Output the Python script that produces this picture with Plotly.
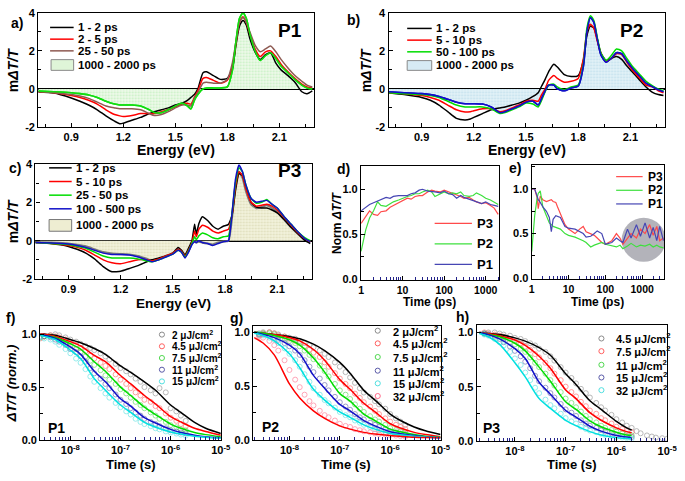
import plotly.graph_objects as go

W, H = 685, 481
FONT = "Liberation Sans"


def px(x):
    return x / W


def py(y):
    return 1 - y / H


# ---------------- data: panel a (P1 spectra) ----------------
E_ab = [0.71, 0.8, 0.9, 0.95, 1.0, 1.05, 1.1, 1.15, 1.18, 1.2, 1.25, 1.3, 1.35, 1.38, 1.42,
        1.46, 1.5, 1.54, 1.57, 1.59, 1.61, 1.63, 1.66, 1.68, 1.72, 1.76, 1.8, 1.83, 1.85, 1.87,
        1.89, 1.91, 1.93, 1.96, 1.99, 2.02, 2.05, 2.08, 2.11, 2.15, 2.19, 2.23, 2.26, 2.29]
a_1_2 = [-0.17, -0.22, -0.48, -0.65, -0.85, -1.1, -1.42, -1.7, -1.83, -1.8, -1.65, -1.5, -1.3, -1.2, -1.1,
         -1.0, -0.85, -0.75, -0.6, -0.45, -0.3, 0.0, 0.85, 0.9, 0.7, 0.5, 0.55, 1.1, 2.3, 3.3,
         3.6, 3.35, 2.65, 1.95, 1.55, 1.8, 1.9, 1.35, 1.0, 0.7, 0.35, -0.15, -0.25, -0.1]
a_2_5 = [-0.15, -0.2, -0.35, -0.45, -0.6, -0.8, -1.1, -1.35, -1.42, -1.45, -1.4, -1.3, -1.3, -1.3, -1.2,
         -1.1, -0.95, -0.8, -0.75, -0.8, -0.45, -0.1, 0.55, 0.6, 0.45, 0.3, 0.45, 1.2, 2.4, 3.5,
         3.8, 3.5, 2.9, 2.1, 1.7, 1.95, 2.0, 1.7, 1.3, 0.9, 0.55, 0.25, 0.1, 0.05]
a_25_50 = [-0.15, -0.2, -0.3, -0.38, -0.5, -0.7, -0.9, -1.0, -1.05, -1.05, -1.05, -1.1, -1.3, -1.4, -1.35,
           -1.2, -1.0, -0.85, -0.85, -0.9, -0.5, -0.2, 0.3, 0.35, 0.3, 0.3, 0.5, 1.4, 2.5, 3.5,
           3.75, 3.5, 3.0, 2.3, 1.95, 2.1, 2.25, 1.95, 1.55, 1.1, 0.7, 0.4, 0.2, 0.1]
a_1000_2000 = [-0.12, -0.15, -0.2, -0.25, -0.32, -0.45, -0.65, -0.8, -0.85, -0.85, -0.85, -0.9, -1.1, -1.25, -1.25,
               -1.1, -0.9, -0.75, -0.9, -1.05, -0.6, -0.3, 0.0, 0.05, 0.05, 0.05, 0.1, 1.0, 2.5, 3.7,
               4.0, 3.7, 2.9, 2.0, 1.5, 1.75, 1.9, 1.6, 1.2, 0.85, 0.5, 0.2, 0.05, 0.0]

# ---------------- data: panel b (P2 spectra) ----------------
b_1_2 = [-0.2, -0.3, -0.45, -0.6, -0.85, -1.2, -1.55, -1.63, -1.58, -1.5, -1.3, -1.1, -1.0, -0.95, -0.85,
         -0.75, -0.6, -0.4, -0.2, 0.15, 0.5, 0.9, 1.3, 1.15, 0.75, 0.65, 0.7, 1.5, 2.8, 3.3,
         3.2, 2.6, 1.9, 1.5, 1.6, 1.7, 1.55, 1.2, 0.9, 0.5, 0.1, -0.2, -0.3, -0.35]
b_5_10 = [-0.2, -0.25, -0.35, -0.45, -0.6, -0.85, -1.1, -1.22, -1.2, -1.15, -1.05, -1.05, -1.2, -1.15, -1.0,
          -0.85, -0.65, -0.6, -0.65, -0.3, 0.0, 0.45, 0.7, 0.55, 0.35, 0.4, 0.55, 1.6, 3.0, 3.4,
          3.2, 2.5, 1.9, 1.45, 1.6, 1.85, 1.8, 1.4, 1.0, 0.6, 0.2, 0.1, -0.1, -0.2]
b_50_100 = [-0.2, -0.25, -0.3, -0.35, -0.45, -0.65, -0.85, -0.95, -0.95, -0.95, -0.95, -1.05, -1.3, -1.25, -1.1,
            -0.95, -0.75, -0.8, -0.95, -0.6, -0.15, 0.2, 0.25, 0.1, -0.05, 0.1, 0.2, 1.3, 3.2, 3.85,
            3.6, 2.7, 1.9, 1.5, 1.75, 2.1, 2.0, 1.6, 1.2, 0.8, 0.4, 0.15, 0.0, -0.1]
b_1000_2000 = [-0.15, -0.2, -0.25, -0.3, -0.4, -0.55, -0.7, -0.78, -0.78, -0.78, -0.8, -0.95, -1.25, -1.2, -1.05,
               -0.9, -0.7, -0.65, -0.85, -0.5, -0.1, 0.2, 0.2, 0.0, -0.1, 0.05, 0.15, 1.2, 3.0, 3.75,
               3.5, 2.6, 1.8, 1.4, 1.6, 1.9, 1.85, 1.45, 1.1, 0.7, 0.3, 0.1, -0.05, -0.15]

# ---------------- data: panel c (P3 spectra) ----------------
E_c = [0.71, 0.8, 0.9, 0.95, 1.0, 1.05, 1.1, 1.15, 1.2, 1.25, 1.3, 1.35, 1.38, 1.42, 1.46,
       1.5, 1.53, 1.55, 1.57, 1.59, 1.61, 1.625, 1.635, 1.65, 1.67, 1.7, 1.73, 1.76, 1.79, 1.82,
       1.84, 1.86, 1.88, 1.9, 1.92, 1.95, 1.98, 2.01, 2.04, 2.07, 2.1, 2.14, 2.18, 2.22, 2.26, 2.29]
c_1_2 = [-0.1, -0.15, -0.3, -0.45, -0.65, -0.95, -1.35, -1.62, -1.6, -1.45, -1.3, -1.1, -1.0, -0.9, -0.8,
         -0.65, -0.35, -0.5, -0.75, -0.4, 0.0, 0.85, 0.35, 0.9, 1.25, 1.05, 0.75, 0.6, 0.75, 0.85,
         1.3, 2.6, 3.5, 3.4, 2.8, 2.0, 1.75, 1.7, 1.7, 1.6, 1.45, 1.1, 0.7, 0.35, 0.0, -0.15]
c_5_10 = [-0.1, -0.15, -0.25, -0.35, -0.5, -0.75, -1.0, -1.15, -1.2, -1.1, -1.0, -1.0, -1.05, -0.95, -0.8,
          -0.65, -0.45, -0.55, -0.8, -0.5, -0.1, 0.5, 0.2, 0.6, 0.8, 0.7, 0.5, 0.4, 0.5, 0.6,
          1.3, 2.8, 3.6, 3.4, 2.7, 2.0, 1.8, 1.85, 1.9, 1.8, 1.6, 1.2, 0.8, 0.4, 0.1, -0.05]
c_25_50 = [-0.1, -0.15, -0.2, -0.3, -0.4, -0.6, -0.8, -0.9, -0.9, -0.9, -0.95, -1.05, -1.1, -1.0, -0.85,
           -0.7, -0.5, -0.6, -0.85, -0.55, -0.15, 0.2, 0.05, 0.25, 0.4, 0.3, 0.15, 0.1, 0.2, 0.25,
           1.4, 3.0, 3.8, 3.6, 2.9, 2.2, 1.95, 2.0, 2.15, 1.9, 1.7, 1.25, 0.85, 0.45, 0.15, 0.0]
c_100_500 = [-0.1, -0.12, -0.18, -0.25, -0.35, -0.5, -0.65, -0.72, -0.72, -0.75, -0.85, -1.0, -1.1, -1.0, -0.85,
             -0.7, -0.5, -0.6, -0.9, -0.6, -0.2, -0.05, -0.1, 0.0, -0.1, -0.15, -0.25, -0.15, -0.05, 0.0,
             1.4, 3.2, 3.95, 3.6, 2.9, 2.2, 2.0, 2.05, 2.1, 1.9, 1.7, 1.25, 0.85, 0.45, 0.1, -0.05]
c_1000_2000 = [-0.08, -0.1, -0.15, -0.22, -0.3, -0.45, -0.6, -0.68, -0.7, -0.72, -0.8, -0.95, -1.05, -0.95, -0.8,
               -0.65, -0.45, -0.55, -0.85, -0.55, -0.15, -0.05, -0.1, -0.05, -0.1, -0.15, -0.2, -0.1, -0.05, 0.0,
               1.2, 2.9, 3.6, 3.3, 2.6, 1.9, 1.7, 1.75, 1.85, 1.7, 1.5, 1.1, 0.7, 0.35, 0.05, -0.05]

# ---------------- data: panel d (normalised kinetics, rise) ----------------
t_d = [1, 1.3, 1.6, 2, 2.5, 3, 4, 5, 6, 8, 10, 13, 16, 20, 25, 30, 40, 50, 60, 80, 100,
       130, 160, 200, 250, 300, 400, 500, 600, 800, 1000, 1300, 1600, 2000]
d_P3 = [0.62, 0.70, 0.76, 0.72, 0.71, 0.75, 0.76, 0.80, 0.82, 0.85, 0.88, 0.90, 0.89, 0.92, 0.93, 0.93, 0.97,
        0.99, 0.98, 0.97, 0.99, 0.97, 0.95, 0.94, 0.92, 0.90, 0.91, 0.88, 0.86, 0.84, 0.85, 0.82, 0.79, 0.72]
d_P2 = [0.31, 0.55, 0.68, 0.76, 0.86, 0.82, 0.81, 0.84, 0.86, 0.88, 0.90, 0.92, 0.93, 0.95, 0.95, 0.97, 0.99,
        0.97, 0.92, 0.95, 0.97, 0.95, 0.96, 0.95, 0.97, 0.93, 0.92, 0.93, 0.96, 0.93, 0.90, 0.88, 0.86, 0.83]
d_P1 = [0.76, 0.80, 0.83, 0.85, 0.87, 0.88, 0.91, 0.90, 0.92, 0.93, 0.93, 0.93, 0.95, 0.96, 0.99, 1.00, 0.98,
        0.97, 0.97, 0.96, 0.98, 0.95, 0.94, 0.90, 0.93, 0.91, 0.89, 0.88, 0.86, 0.84, 0.86, 0.83, 0.82, 0.81]

# ---------------- data: panel e (normalised kinetics, decay) ----------------
t_e = [1, 1.2, 1.4, 1.5, 1.7, 2, 2.5, 3, 3.4, 3.8, 4.5, 5, 6, 8, 10, 15, 20, 25, 30, 40, 50, 60, 80,
       100, 150, 200, 250, 300, 400, 500, 700, 900, 1200, 1600, 2000, 2500, 3000, 3800]
e_P3 = [1.0, 1.0, 0.9, 0.78, 0.92, 0.88, 0.86, 0.87, 0.88, 0.86, 0.85, 0.80, 0.72, 0.60, 0.55, 0.50, 0.55, 0.58,
        0.52, 0.50, 0.48, 0.45, 0.40, 0.38, 0.42, 0.50, 0.45, 0.38, 0.45, 0.50, 0.45, 0.55, 0.50, 0.60, 0.48,
        0.58, 0.42, 0.45]
e_P2 = [0.30, 0.70, 0.90, 0.95, 0.98, 0.80, 0.70, 0.62, 0.60, 0.58, 0.57, 0.56, 0.55, 0.50, 0.48, 0.46, 0.44,
        0.42, 0.40, 0.35, 0.37, 0.38, 0.40, 0.38, 0.36, 0.35, 0.37, 0.33, 0.36, 0.39, 0.35, 0.37, 0.36, 0.38,
        0.35, 0.37, 0.35, 0.34]
e_P1 = [1.0, 1.0, 0.92, 0.88, 0.85, 0.80, 0.75, 0.68, 0.52, 0.66, 0.70, 0.69, 0.68, 0.58, 0.56, 0.55, 0.52,
        0.50, 0.46, 0.47, 0.50, 0.53, 0.50, 0.38, 0.40, 0.45, 0.42, 0.40, 0.55, 0.45, 0.60, 0.47, 0.62, 0.45,
        0.57, 0.42, 0.58, 0.42]
e_highlight_t = [1100]
e_highlight_v = [0.43]

# ---------------- data: panels f, g, h (long-time decays) ----------------
t_fit = [2e-9, 3e-9, 5e-9, 1e-8, 1.6e-8, 3e-8, 5e-8, 1e-7, 1.6e-7, 3e-7, 5e-7, 1e-6, 1.6e-6, 3e-6, 5e-6, 1e-5]
t_fit_h = [2e-9, 3e-9, 5e-9, 1e-8, 1.6e-8, 3e-8, 5e-8, 1e-7, 1.6e-7, 3e-7, 5e-7, 1e-6, 1.6e-6, 2e-6]
t_dat = [2.5e-9, 3e-9, 4e-9, 5e-9, 6e-9, 8e-9, 1e-8, 1.3e-8, 1.6e-8, 2e-8, 2.5e-8, 3e-8, 4e-8, 5e-8, 6e-8,
         8e-8, 1e-7, 1.3e-7, 1.6e-7, 2e-7, 2.5e-7, 3e-7, 4e-7, 5e-7, 6e-7, 8e-7, 1e-6, 1.3e-6, 1.6e-6, 2e-6]
t_dat_long = t_dat + [2.5e-6, 3e-6, 4e-6, 5e-6, 6e-6, 8e-6, 1e-5]

f_labels = ["2 μJ/cm<sup>2</sup>", "4.5 μJ/cm<sup>2</sup>", "7.5 μJ/cm<sup>2</sup>",
            "11 μJ/cm<sup>2</sup>", "15 μJ/cm<sup>2</sup>"]
f_fit = [
    [1.0, 1.0, 0.99, 0.95, 0.92, 0.865, 0.81, 0.70, 0.64, 0.55, 0.47, 0.33, 0.26, 0.165, 0.11, 0.06],
    [1.0, 1.0, 0.98, 0.93, 0.89, 0.80, 0.74, 0.61, 0.53, 0.42, 0.34, 0.22, 0.17, 0.11, 0.08, 0.045],
    [1.0, 0.99, 0.97, 0.91, 0.86, 0.74, 0.65, 0.50, 0.42, 0.31, 0.24, 0.15, 0.11, 0.07, 0.05, 0.03],
    [1.0, 0.99, 0.96, 0.88, 0.81, 0.65, 0.55, 0.39, 0.32, 0.21, 0.16, 0.10, 0.07, 0.045, 0.03, 0.02],
    [1.0, 0.98, 0.95, 0.85, 0.77, 0.58, 0.47, 0.33, 0.26, 0.165, 0.12, 0.075, 0.055, 0.035, 0.025, 0.015],
]
f_dat = [
    [0.97, 0.98, 0.99, 1.0, 0.99, 0.97, 0.95, 0.93, 0.91, 0.89, 0.87, 0.85, 0.82, 0.79, 0.76, 0.72, 0.68,
     0.65, 0.62, 0.58, 0.55, 0.50, 0.47, 0.44, 0.49, 0.45, 0.30, 0.27, 0.23, 0.18],
    [0.96, 0.98, 0.99, 0.98, 0.97, 0.95, 0.92, 0.90, 0.87, 0.84, 0.80, 0.77, 0.73, 0.70, 0.67, 0.62, 0.57,
     0.53, 0.49, 0.45, 0.42, 0.38, 0.36, 0.32, 0.30, 0.25, 0.21, 0.18, 0.15, 0.13],
    [0.97, 0.98, 0.98, 0.97, 0.95, 0.92, 0.89, 0.86, 0.83, 0.79, 0.75, 0.71, 0.66, 0.61, 0.57, 0.53, 0.48,
     0.44, 0.40, 0.36, 0.33, 0.30, 0.26, 0.23, 0.20, 0.17, 0.14, 0.12, 0.10, 0.09],
    [0.98, 0.98, 0.97, 0.95, 0.93, 0.90, 0.86, 0.83, 0.79, 0.74, 0.68, 0.63, 0.58, 0.53, 0.49, 0.43, 0.38,
     0.34, 0.30, 0.26, 0.23, 0.20, 0.17, 0.15, 0.13, 0.11, 0.09, 0.08, 0.07, 0.06],
    [0.97, 0.96, 0.95, 0.93, 0.90, 0.86, 0.82, 0.77, 0.73, 0.67, 0.60, 0.55, 0.49, 0.44, 0.40, 0.35, 0.31,
     0.27, 0.24, 0.20, 0.17, 0.15, 0.13, 0.11, 0.10, 0.08, 0.07, 0.06, 0.05, 0.04],
]

g_labels = ["2 μJ/cm<sup>2</sup>", "4.5 μJ/cm<sup>2</sup>", "7.5 μJ/cm<sup>2</sup>",
            "11 μJ/cm<sup>2</sup>", "15 μJ/cm<sup>2</sup>", "32 μJ/cm<sup>2</sup>"]
g_fit = [
    [1.0, 0.99, 0.98, 0.96, 0.94, 0.89, 0.83, 0.72, 0.62, 0.46, 0.37, 0.24, 0.18, 0.12, 0.085, 0.05],
    [1.0, 0.99, 0.98, 0.95, 0.92, 0.84, 0.74, 0.56, 0.47, 0.34, 0.26, 0.15, 0.11, 0.07, 0.05, 0.03],
    [1.0, 0.99, 0.97, 0.93, 0.88, 0.76, 0.63, 0.43, 0.36, 0.24, 0.18, 0.10, 0.075, 0.05, 0.035, 0.025],
    [1.0, 0.98, 0.95, 0.88, 0.80, 0.60, 0.48, 0.33, 0.27, 0.18, 0.13, 0.075, 0.058, 0.04, 0.03, 0.02],
    [0.99, 0.97, 0.92, 0.80, 0.67, 0.47, 0.37, 0.26, 0.21, 0.14, 0.10, 0.06, 0.048, 0.034, 0.027, 0.02],
    [0.95, 0.90, 0.79, 0.52, 0.39, 0.27, 0.20, 0.13, 0.10, 0.07, 0.055, 0.04, 0.033, 0.025, 0.022, 0.02],
]
g_dat = [
    [0.99, 1.0, 1.0, 0.99, 0.98, 0.96, 0.95, 0.94, 0.92, 0.90, 0.88, 0.86, 0.83, 0.80, 0.77, 0.72, 0.68,
     0.63, 0.58, 0.53, 0.48, 0.44, 0.40, 0.36, 0.33, 0.29, 0.24, 0.20, 0.17, 0.14],
    [0.97, 0.99, 1.0, 0.99, 0.97, 0.96, 0.94, 0.92, 0.90, 0.87, 0.84, 0.81, 0.77, 0.72, 0.68, 0.62, 0.57,
     0.52, 0.48, 0.43, 0.39, 0.35, 0.31, 0.27, 0.24, 0.20, 0.17, 0.14, 0.12, 0.10],
    [0.98, 0.99, 0.99, 0.98, 0.96, 0.94, 0.92, 0.90, 0.87, 0.83, 0.79, 0.75, 0.69, 0.64, 0.59, 0.52, 0.46,
     0.42, 0.38, 0.33, 0.29, 0.26, 0.22, 0.19, 0.17, 0.14, 0.11, 0.09, 0.08, 0.07],
    [0.98, 0.98, 0.97, 0.95, 0.93, 0.90, 0.87, 0.83, 0.79, 0.74, 0.68, 0.63, 0.57, 0.51, 0.46, 0.40, 0.35,
     0.31, 0.28, 0.24, 0.21, 0.19, 0.16, 0.14, 0.12, 0.10, 0.08, 0.07, 0.06, 0.05],
    [0.98, 0.97, 0.95, 0.93, 0.90, 0.85, 0.80, 0.74, 0.68, 0.61, 0.54, 0.48, 0.42, 0.37, 0.34, 0.30, 0.26,
     0.23, 0.21, 0.18, 0.16, 0.14, 0.12, 0.10, 0.09, 0.075, 0.06, 0.055, 0.048, 0.042],
    [0.96, 0.95, 0.92, 0.88, 0.83, 0.74, 0.65, 0.56, 0.49, 0.42, 0.36, 0.32, 0.27, 0.23, 0.21, 0.18, 0.15,
     0.13, 0.12, 0.10, 0.09, 0.08, 0.07, 0.06, 0.055, 0.05, 0.045, 0.04, 0.035, 0.03],
]

h_labels = ["4.5 μJ/cm<sup>2</sup>", "7.5 μJ/cm<sup>2</sup>", "11 μJ/cm<sup>2</sup>",
            "15 μJ/cm<sup>2</sup>", "32 μJ/cm<sup>2</sup>"]
h_fit = [
    [1.0, 0.99, 0.98, 0.95, 0.92, 0.86, 0.79, 0.62, 0.52, 0.37, 0.29, 0.18, 0.12, 0.10],
    [1.0, 0.99, 0.97, 0.93, 0.88, 0.78, 0.67, 0.47, 0.39, 0.26, 0.19, 0.12, 0.085, 0.075],
    [1.0, 0.98, 0.96, 0.90, 0.83, 0.68, 0.55, 0.36, 0.29, 0.185, 0.13, 0.08, 0.055, 0.05],
    [1.0, 0.98, 0.94, 0.85, 0.76, 0.54, 0.43, 0.28, 0.22, 0.135, 0.09, 0.05, 0.035, 0.03],
    [0.99, 0.96, 0.89, 0.72, 0.59, 0.39, 0.30, 0.19, 0.14, 0.085, 0.055, 0.03, 0.022, 0.02],
]
h_dat = [
    [0.99, 1.0, 1.0, 0.99, 0.98, 0.97, 0.95, 0.94, 0.92, 0.90, 0.88, 0.85, 0.82, 0.78, 0.74, 0.68, 0.63,
     0.58, 0.53, 0.48, 0.44, 0.40, 0.35, 0.31, 0.28, 0.24, 0.20, 0.17, 0.14, 0.12,
     0.09, 0.07, 0.05, 0.04, 0.03, 0.025, 0.02],
    [1.0, 0.99, 0.98, 0.97, 0.96, 0.94, 0.92, 0.90, 0.87, 0.84, 0.80, 0.77, 0.72, 0.67, 0.62, 0.56, 0.50,
     0.45, 0.41, 0.36, 0.32, 0.28, 0.25, 0.21, 0.19, 0.16, 0.13, 0.11, 0.09, 0.08],
    [0.99, 0.98, 0.97, 0.96, 0.94, 0.91, 0.89, 0.85, 0.82, 0.77, 0.72, 0.68, 0.62, 0.56, 0.51, 0.45, 0.39,
     0.35, 0.31, 0.27, 0.23, 0.20, 0.17, 0.14, 0.12, 0.10, 0.085, 0.07, 0.06, 0.05],
    [0.99, 0.98, 0.96, 0.94, 0.91, 0.87, 0.83, 0.78, 0.73, 0.67, 0.60, 0.55, 0.49, 0.44, 0.40, 0.34, 0.29,
     0.26, 0.23, 0.19, 0.16, 0.14, 0.12, 0.10, 0.085, 0.07, 0.055, 0.045, 0.04, 0.035],
    [0.98, 0.97, 0.94, 0.91, 0.88, 0.82, 0.76, 0.70, 0.63, 0.56, 0.49, 0.44, 0.38, 0.33, 0.30, 0.25, 0.21,
     0.18, 0.16, 0.13, 0.11, 0.095, 0.08, 0.065, 0.055, 0.045, 0.035, 0.03, 0.025, 0.02],
]

# ---------------- styling ----------------
BLACK, RED, GREEN, BLUE, CYAN = "#000000", "#ff0000", "#00dd00", "#1010c8", "#00e0e0"
BROWN = "#8e5a52"
DAT_COL = {"k": "#8a8a8a", "r": "#ff6060", "g": "#50d850", "b": "#5a5aa8", "c": "#50e0e0", "p": "#ff6a8a"}
MINOR_BLUE = "#23238a"

fig = go.Figure()


def line(x, y, ax, color, width=1.5, shape="spline", smoothing=0.6):
    fig.add_trace(go.Scatter(x=x, y=y, xaxis="x" + ax, yaxis="y" + ax, mode="lines",
                             line=dict(color=color, width=width, shape=shape, smoothing=smoothing),
                             showlegend=False, hoverinfo="skip"))


def marks(x, y, ax, color):
    fig.add_trace(go.Scatter(x=x, y=y, xaxis="x" + ax, yaxis="y" + ax, mode="markers",
                             marker=dict(symbol="circle-open", size=5, color=color, line=dict(width=1)),
                             opacity=0.6, showlegend=False, hoverinfo="skip"))


def filled(x, y, ax, edge, edge_w, fg, bg, smoothing=0.6):
    fig.add_trace(go.Scatter(x=x, y=y, xaxis="x" + ax, yaxis="y" + ax, mode="lines", fill="tozeroy",
                             fillcolor=bg,
                             fillpattern=dict(shape=".", fgcolor=fg, bgcolor=bg, size=3, solidity=0.35),
                             line=dict(color=edge, width=edge_w, shape="spline", smoothing=smoothing),
                             showlegend=False, hoverinfo="skip"))


# panel a
filled(E_ab, a_1000_2000, "", "#11dd11", 1.6, "#9ee39a", "#eefaea")
line(E_ab, a_1_2, "", BLACK)
line(E_ab, a_2_5, "", RED)
line(E_ab, a_25_50, "", BROWN)
line(E_ab, a_1000_2000, "", "#11dd11", width=1.6)

# panel b
filled(E_ab, b_1000_2000, "2", BLUE, 1.6, "#9fcbe0", "#e3f2f8")
line(E_ab, b_1_2, "2", BLACK)
line(E_ab, b_5_10, "2", RED)
line(E_ab, b_50_100, "2", GREEN)
line(E_ab, b_1000_2000, "2", BLUE, width=1.6)

# panel c
filled(E_c, c_1000_2000, "3", "#7a7a7a", 2.2, "#c9c79a", "#f3f2dc", smoothing=0.4)
line(E_c, c_1_2, "3", BLACK, smoothing=0.4)
line(E_c, c_5_10, "3", RED, smoothing=0.4)
line(E_c, c_25_50, "3", GREEN, smoothing=0.4)
line(E_c, c_100_500, "3", BLUE, smoothing=0.4)

# panel d
line(t_d, d_P3, "4", "#ff4a4a", width=1.2, shape="linear")
line(t_d, d_P2, "4", "#3ee03e", width=1.2, shape="linear")
line(t_d, d_P1, "4", "#4646b4", width=1.2, shape="linear")

# panel e
fig.add_trace(go.Scatter(x=e_highlight_t, y=e_highlight_v, xaxis="x5", yaxis="y5", mode="markers",
                         marker=dict(size=44, color="rgba(150,150,160,0.72)", line=dict(width=0)),
                         showlegend=False, hoverinfo="skip"))
line(t_e, e_P3, "5", "#ff4a4a", width=1.2, shape="linear")
line(t_e, e_P2, "5", "#3ee03e", width=1.2, shape="linear")
line(t_e, e_P1, "5", "#4646b4", width=1.2, shape="linear")

# panel f
f_dc = [DAT_COL["k"], DAT_COL["r"], DAT_COL["g"], DAT_COL["b"], DAT_COL["c"]]
f_lc = [BLACK, RED, GREEN, BLUE, CYAN]
for yv, c in zip(f_dat, f_dc):
    marks(t_dat, yv, "6", c)
for yv, c in zip(f_fit, f_lc):
    line(t_fit, yv, "6", c, width=1.5, smoothing=0.8)

# panel g
g_dc = [DAT_COL["k"], DAT_COL["r"], DAT_COL["g"], DAT_COL["b"], DAT_COL["c"], DAT_COL["p"]]
g_lc = [BLACK, RED, GREEN, BLUE, CYAN, RED]
for yv, c in zip(g_dat, g_dc):
    marks(t_dat, yv, "7", c)
for yv, c in zip(g_fit, g_lc):
    line(t_fit, yv, "7", c, width=1.5, smoothing=0.8)

# panel h
h_dc = [DAT_COL["k"], DAT_COL["r"], DAT_COL["g"], DAT_COL["b"], DAT_COL["c"]]
h_lc = [BLACK, RED, GREEN, BLUE, CYAN]
for i, (yv, c) in enumerate(zip(h_dat, h_dc)):
    marks(t_dat_long if i == 0 else t_dat, yv, "8", c)
for yv, c in zip(h_fit, h_lc):
    line(t_fit_h, yv, "8", c, width=1.5, smoothing=0.8)

# ---------------- axes ----------------
TICKFONT = dict(family=FONT, size=11, color="black", weight="bold")


def ax(dom, **kw):
    d = dict(domain=dom, showline=True, linecolor="black", linewidth=1.3, mirror=True,
             ticks="inside", ticklen=4, tickwidth=1.2, tickcolor="black", showgrid=False,
             zeroline=False, tickfont=TICKFONT, fixedrange=True)
    d.update(kw)
    return d


def xspec(dom, anchor):
    return ax(dom, anchor=anchor, range=[0.71, 2.30], tickvals=[0.9, 1.2, 1.5, 1.8, 2.1],
              ticktext=["0.9", "1.2", "1.5", "1.8", "2.1"],
              minor=dict(dtick=0.15, tick0=0.75, ticks="inside", ticklen=3, tickcolor="black"))


def yspec(dom, anchor):
    return ax(dom, anchor=anchor, range=[-2, 4], tickvals=[-2, 0, 2, 4], ticktext=["-2", "0", "2", "4"],
              zeroline=True, zerolinecolor="black", zerolinewidth=1.5,
              minor=dict(dtick=1, ticks="inside", ticklen=3, tickcolor="black"))


def xlog_ps(dom, anchor, rng):
    return ax(dom, anchor=anchor, type="log", range=rng, tickvals=[1, 10, 100, 1000],
              ticktext=["1", "10", "100", "1000"],
              tickfont=dict(family=FONT, size=10.5, color="black", weight="bold"),
              minor=dict(ticks="inside", ticklen=3, tickcolor=MINOR_BLUE, dtick="D1"))


def xlog_s(dom, anchor, rng):
    return ax(dom, anchor=anchor, type="log", range=rng, tickvals=[1e-8, 1e-7, 1e-6, 1e-5],
              ticktext=["10<sup>-8</sup>", "10<sup>-7</sup>", "10<sup>-6</sup>", "10<sup>-5</sup>"],
              minor=dict(ticks="inside", ticklen=3, tickcolor=MINOR_BLUE, dtick="D1"))


def ynorm(dom, anchor, rng):
    return ax(dom, anchor=anchor, range=rng, tickvals=[0, 0.5, 1.0], ticktext=["0.0", "0.5", "1.0"],
              minor=dict(dtick=0.25, ticks="inside", ticklen=3, tickcolor="black"))


def xd(a, b):
    return [px(a), px(b)]


def yd(top, bottom):
    return [py(bottom), py(top)]


fig.update_layout(
    width=W, height=H, margin=dict(l=0, r=0, t=0, b=0),
    paper_bgcolor="white", plot_bgcolor="white", showlegend=False,
    font=dict(family=FONT, color="black"),
    xaxis=xspec(xd(36, 317), "y"), yaxis=yspec(yd(7, 124), "x"),
    xaxis2=xspec(xd(393, 675), "y2"), yaxis2=yspec(yd(7, 124), "x2"),
    xaxis3=xspec(xd(33, 315), "y3"), yaxis3=yspec(yd(162, 280), "x3"),
    xaxis4=xlog_ps(xd(365, 506), "y4", [0, 3.33]), yaxis4=ynorm(yd(164, 281), "x4", [-0.01, 1.26]),
    xaxis5=xlog_ps(xd(539, 674), "y5", [0, 3.6]), yaxis5=ynorm(yd(163, 280), "x5", [-0.01, 1.27]),
    xaxis6=xlog_s(xd(38, 222), "y6", [-8.6, -5]), yaxis6=ynorm(yd(328, 445), "x6", [0, 1.08]),
    xaxis7=xlog_s(xd(255, 446), "y7", [-8.72, -5]), yaxis7=ynorm(yd(328, 445), "x7", [0, 1.06]),
    xaxis8=xlog_s(xd(483, 677), "y8", [-8.75, -5]), yaxis8=ynorm(yd(327, 446), "x8", [0, 1.07]),
)

# ---------------- text & legends ----------------
ann = []
shp = []


def text(x, y, s, size=12, xanchor="left", angle=0, yanchor="middle"):
    ann.append(dict(text=s, x=px(x), y=py(y), xref="paper", yref="paper", xanchor=xanchor,
                    yanchor=yanchor, showarrow=False, textangle=angle,
                    font=dict(family=FONT, size=size, color="black", weight="bold")))


def leg_line(x0, x1, y, color, width=1.5):
    shp.append(dict(type="line", xref="paper", yref="paper", x0=px(x0), x1=px(x1), y0=py(y), y1=py(y),
                    line=dict(color=color, width=width)))


def leg_box(x0, x1, y0, y1, fill, edge="#8a8a8a"):
    shp.append(dict(type="rect", xref="paper", yref="paper", x0=px(x0), x1=px(x1), y0=py(y1), y1=py(y0),
                    fillcolor=fill, line=dict(color=edge, width=1)))


def leg_circle(x, y, color, r=2.6):
    shp.append(dict(type="circle", xref="paper", yref="paper", x0=px(x - r), x1=px(x + r),
                    y0=py(y + r), y1=py(y - r), line=dict(color=color, width=1)))


# panel letters
text(14, 17, "a)", 14, "center")
text(357, 14, "b)", 14, "center")
text(12, 166, "c)", 14, "center")
text(347, 167, "d)", 14, "center")
text(522, 166, "e)", 14, "center")
text(8, 320, "f)", 14, "center")
text(238, 320, "g)", 14, "center")
text(468, 319, "h)", 14, "center")

# sample labels
text(293, 25, "P1", 19, "center")
text(641, 25, "P2", 19, "center")
text(292, 169, "P3", 19, "center")
text(55, 433, "P1", 14, "center")
text(273, 432, "P2", 14, "center")
text(498, 433, "P3", 14, "center")

# axis titles
text(176, 148, "Energy (eV)", 14, "center")
text(534, 148, "Energy (eV)", 14, "center")
text(174, 305, "Energy (eV)", 13.5, "center")
text(435, 304, "Time (ps)", 12, "center")
text(606, 304, "Time (ps)", 12, "center")
text(130, 470, "Time (s)", 13, "center")
text(350, 470, "Time (s)", 13, "center")
text(580, 470, "Time (s)", 13, "center")
text(11, 66, "m<i>ΔT/T</i>", 14, "center", -90)
text(370, 66, "m<i>ΔT/T</i>", 14, "center", -90)
text(11, 221, "m<i>ΔT/T</i>", 14, "center", -90)
text(341, 223, "Norm <i>ΔT/T</i>", 12, "center", -90)
text(9, 387, "<i>ΔT/T (norm.)</i>", 13, "center", -90)

# legend a
for yy, col, s in [(22, BLACK, "1 - 2 ps"), (34, RED, "2 - 5 ps"), (46, BROWN, "25 - 50 ps")]:
    leg_line(48, 72, yy, col)
    text(74, yy, s, 11.5)
leg_box(49, 72, 55, 66, "#dff5d8")
text(74, 60, "1000 - 2000 ps", 11.5)

# legend b
for yy, col, s in [(23, BLACK, "1 - 2 ps"), (35, RED, "5 - 10 ps"), (47, GREEN, "50 - 100 ps")]:
    leg_line(412, 437, yy, col)
    text(439, yy, s, 11.5)
leg_box(412, 437, 56, 66, "#d7ebf4")
text(439, 61, "1000 - 2000 ps", 11.5)

# legend c
for yy, col, s in [(166, BLACK, "1 - 2 ps"), (180, RED, "5 - 10 ps"), (194, GREEN, "25 - 50 ps"),
                   (208, BLUE, "100 - 500 ps")]:
    leg_line(47, 70, yy, col)
    text(72, yy, s, 11.5)
leg_box(47, 70, 219, 231, "#eeedd2", "#777777")
text(72, 225, "1000 - 2000 ps", 11.5)

# legend d
for yy, col, s in [(223, "#ff4a4a", "P3"), (244, "#3ee03e", "P2"), (265, "#4646b4", "P1")]:
    leg_line(440, 478, yy, col, 1.2)
    text(481, yy, s, 13)

# legend e
for yy, col, s in [(175, "#ff4a4a", "P3"), (189, "#3ee03e", "P2"), (203, "#4646b4", "P1")]:
    leg_line(625, 652, yy, col, 1.2)
    text(655, yy, s, 12)

# legend f
for yy, col, s in zip([337, 349, 361, 373, 385], f_dc, f_labels):
    leg_circle(162, yy, col)
    text(170, yy, s, 10)

# legend g
for yy, col, s in zip([333, 346, 360, 374, 387, 400], g_dc, g_labels):
    leg_circle(382, yy, col)
    text(396, yy, s, 11)

# legend h
for yy, col, s in zip([341, 354, 368, 381, 394], h_dc, h_labels):
    leg_circle(610, yy, col)
    text(623, yy, s, 11)

fig.update_layout(annotations=ann, shapes=shp)
fig.write_html("out.html")
